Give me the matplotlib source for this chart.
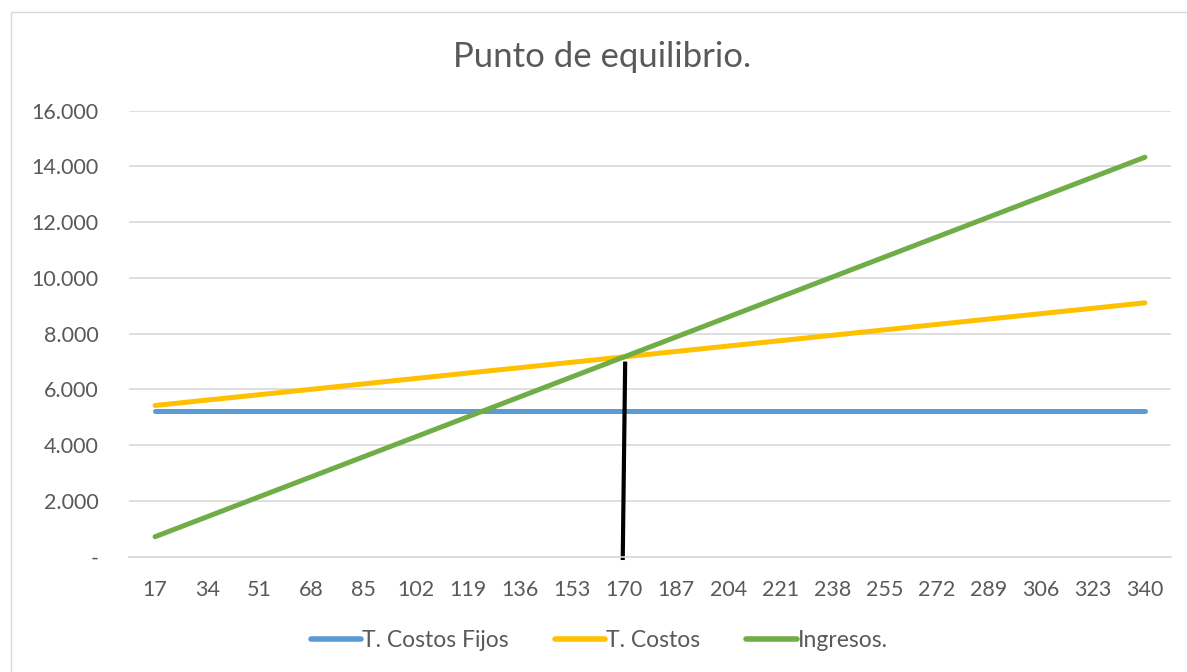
import matplotlib.pyplot as plt
from matplotlib.patches import Rectangle
from matplotlib.ticker import FuncFormatter

plt.rcParams['font.family'] = ['Lato', 'DejaVu Sans']

unidades = [17, 34, 51, 68, 85, 102, 119, 136, 153, 170,
            187, 204, 221, 238, 255, 272, 289, 306, 323, 340]
costos_fijos = [5230] * 20
costos_totales = [5424, 5618, 5811, 6005, 6199, 6393, 6587, 6780, 6974, 7168,
                  7362, 7556, 7749, 7943, 8137, 8331, 8525, 8718, 8912, 9106]
ingresos = [717, 1433, 2150, 2866, 3583, 4299, 5016, 5732, 6449, 7166,
            7882, 8599, 9315, 10032, 10748, 11465, 12181, 12898, 13614, 14331]

# break-even marker drawn by hand (slightly tilted)
equilibrio_x = [170.4, 169.6]
equilibrio_y = [7000, -120]

gris = "#595959"
fig = plt.figure(figsize=(11.87, 6.72), dpi=100)
fig.patches.append(Rectangle((0.0093, -0.01), 0.995, 0.992, transform=fig.transFigure,
                             fill=False, edgecolor="#D9D9D9", linewidth=1))

ax = fig.add_axes([0.1087, 0.1716, 0.8778, 0.6637])
ax.plot(unidades, costos_fijos, color="#5B9BD5", lw=3.6, solid_capstyle="round", label="T. Costos Fijos")
ax.plot(unidades, costos_totales, color="#FFC000", lw=3.6, solid_capstyle="round", label="T. Costos")
ax.plot(unidades, ingresos, color="#70AD47", lw=3.6, solid_capstyle="round", label="Ingresos.")
ax.plot(equilibrio_x, equilibrio_y, color="black", lw=3, solid_capstyle="butt", clip_on=False)

ax.set_xlim(8.5, 348.5)
ax.set_ylim(0, 16000)
ax.set_xticks(unidades)
ax.set_yticks(range(0, 16001, 2000))
ax.yaxis.set_major_formatter(FuncFormatter(
    lambda v, _: "-" if v == 0 else f"{int(v):,}".replace(",", ".")))
ax.tick_params(length=0, labelsize=15.5, labelcolor=gris)
ax.tick_params(axis="x", pad=17)
ax.tick_params(axis="y", pad=22)
ax.grid(axis="y", color="#D9D9D9", lw=1.2)
ax.set_axisbelow(True)
for s in ["top", "right", "left"]:
    ax.spines[s].set_visible(False)
ax.spines["bottom"].set_color("#D9D9D9")
ax.spines["bottom"].set_linewidth(1.2)

fig.text(0.507, 0.915, "Punto de equilibrio.", ha="center", va="center", fontsize=25, color=gris)
fig.legend(loc="center", bbox_to_anchor=(0.505, 0.047), ncol=3, frameon=False,
           fontsize=16.5, labelcolor=gris, handlelength=2.2, handletextpad=0.05, columnspacing=2.0)
for line in fig.legends[0].get_lines():
    line.set_linewidth(4)

fig.savefig("out.png", dpi=100)
